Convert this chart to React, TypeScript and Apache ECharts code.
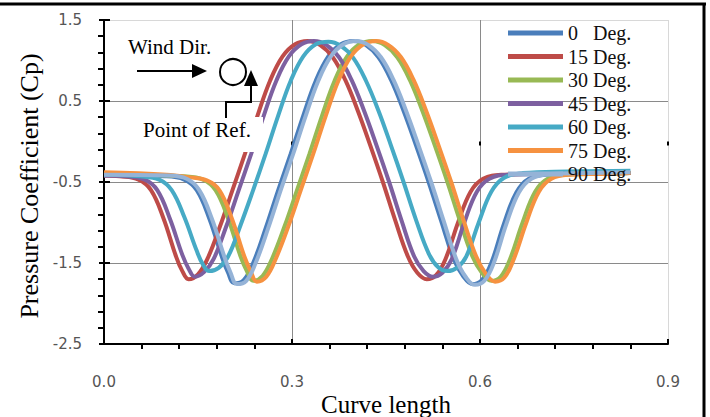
import React, { useEffect, useRef } from "react";
import * as echarts from "echarts";

const seriesNames = ["0   Deg.", "15 Deg.", "30 Deg.", "45 Deg.", "60 Deg.", "75 Deg.", "90 Deg."];
const seriesColors = ["#4A7EBB", "#BE4B48", "#98B954", "#7D60A0", "#46AAC5", "#F69240", "#95B3D7"];

const deg0: number[][] = [
  [0, -0.42], [0.098, -0.43], [0.128, -0.47], [0.148, -0.6], [0.168, -0.95], [0.188, -1.42], [0.198, -1.62],
  [0.208, -1.75], [0.223, -1.71], [0.238, -1.5], [0.258, -1.07], [0.278, -0.6], [0.298, -0.15], [0.318, 0.32],
  [0.338, 0.75], [0.358, 1.05], [0.378, 1.2], [0.398, 1.24], [0.418, 1.19], [0.438, 1.04], [0.458, 0.76],
  [0.478, 0.38], [0.498, -0.05], [0.518, -0.5], [0.538, -0.98], [0.558, -1.45], [0.573, -1.66], [0.588, -1.76],
  [0.603, -1.71], [0.618, -1.5], [0.638, -1.02], [0.658, -0.63], [0.678, -0.46], [0.708, -0.41], [0.77, -0.4], [0.84, -0.39],
];
const deg15: number[][] = [
  [0, -0.42], [0.025, -0.43], [0.055, -0.47], [0.075, -0.6], [0.095, -0.95], [0.115, -1.42], [0.125, -1.6],
  [0.135, -1.7], [0.15, -1.64], [0.165, -1.45], [0.185, -1.05], [0.205, -0.6], [0.225, -0.15], [0.245, 0.32],
  [0.265, 0.75], [0.285, 1.05], [0.305, 1.2], [0.325, 1.24], [0.345, 1.19], [0.365, 1.04], [0.385, 0.76],
  [0.405, 0.38], [0.425, -0.05], [0.445, -0.5], [0.465, -0.98], [0.485, -1.42], [0.5, -1.62], [0.515, -1.7],
  [0.53, -1.65], [0.545, -1.45], [0.565, -1.0], [0.585, -0.62], [0.605, -0.46], [0.635, -0.41], [0.7, -0.4], [0.84, -0.39],
];
const deg30: number[][] = [
  [0, -0.4], [0.128, -0.43], [0.158, -0.47], [0.178, -0.6], [0.198, -0.95], [0.218, -1.42], [0.228, -1.6],
  [0.238, -1.72], [0.253, -1.66], [0.268, -1.45], [0.288, -1.05], [0.308, -0.6], [0.328, -0.15], [0.348, 0.32],
  [0.368, 0.75], [0.388, 1.05], [0.408, 1.2], [0.428, 1.24], [0.448, 1.19], [0.468, 1.04], [0.488, 0.76],
  [0.508, 0.38], [0.528, -0.05], [0.548, -0.5], [0.568, -0.98], [0.588, -1.42], [0.603, -1.62], [0.618, -1.72],
  [0.633, -1.67], [0.648, -1.45], [0.668, -1.0], [0.688, -0.62], [0.708, -0.46], [0.738, -0.41], [0.79, -0.4], [0.84, -0.39],
];
const deg45: number[][] = [
  [0, -0.42], [0.035, -0.43], [0.065, -0.47], [0.085, -0.6], [0.105, -0.95], [0.125, -1.4], [0.135, -1.57],
  [0.145, -1.67], [0.16, -1.61], [0.175, -1.45], [0.195, -1.05], [0.215, -0.6], [0.235, -0.15], [0.255, 0.32],
  [0.275, 0.75], [0.295, 1.05], [0.315, 1.2], [0.335, 1.24], [0.355, 1.19], [0.375, 1.04], [0.395, 0.76],
  [0.415, 0.38], [0.435, -0.05], [0.455, -0.5], [0.475, -0.98], [0.495, -1.42], [0.51, -1.6], [0.525, -1.67],
  [0.54, -1.62], [0.555, -1.45], [0.575, -1.0], [0.595, -0.62], [0.615, -0.46], [0.645, -0.41], [0.72, -0.4], [0.84, -0.39],
];
const deg60: number[][] = [
  [0, -0.41], [0.058, -0.43], [0.088, -0.47], [0.108, -0.6], [0.128, -0.93], [0.148, -1.35], [0.158, -1.52],
  [0.168, -1.6], [0.183, -1.56], [0.198, -1.42], [0.218, -1.03], [0.238, -0.6], [0.258, -0.15], [0.278, 0.32],
  [0.298, 0.75], [0.318, 1.05], [0.338, 1.2], [0.358, 1.23], [0.378, 1.18], [0.398, 1.03], [0.418, 0.75],
  [0.438, 0.38], [0.458, -0.05], [0.478, -0.5], [0.498, -0.97], [0.518, -1.38], [0.533, -1.55], [0.548, -1.6],
  [0.563, -1.56], [0.578, -1.42], [0.598, -1.0], [0.618, -0.62], [0.638, -0.45], [0.668, -0.39], [0.74, -0.37], [0.84, -0.36],
];
const deg75: number[][] = [
  [0, -0.38], [0.1, -0.41], [0.134, -0.44], [0.164, -0.48], [0.184, -0.6], [0.204, -0.95], [0.224, -1.42],
  [0.234, -1.6], [0.244, -1.73], [0.259, -1.67], [0.274, -1.45], [0.294, -1.05], [0.314, -0.6], [0.334, -0.15],
  [0.354, 0.32], [0.374, 0.75], [0.394, 1.05], [0.414, 1.2], [0.434, 1.24], [0.454, 1.19], [0.474, 1.04],
  [0.494, 0.76], [0.514, 0.38], [0.534, -0.05], [0.554, -0.5], [0.574, -0.98], [0.594, -1.42], [0.609, -1.63],
  [0.624, -1.73], [0.639, -1.68], [0.654, -1.45], [0.674, -1.0], [0.694, -0.62], [0.714, -0.46], [0.744, -0.41], [0.79, -0.4], [0.84, -0.39],
];
const deg90: number[][] = [
  [0, -0.41], [0.102, -0.42], [0.132, -0.46], [0.152, -0.6], [0.172, -0.95], [0.192, -1.42], [0.202, -1.62],
  [0.212, -1.76], [0.227, -1.72], [0.242, -1.5], [0.262, -1.07], [0.282, -0.6], [0.302, -0.15], [0.322, 0.32],
  [0.342, 0.75], [0.362, 1.05], [0.382, 1.2], [0.402, 1.24], [0.422, 1.19], [0.442, 1.04], [0.462, 0.76],
  [0.482, 0.38], [0.502, -0.05], [0.522, -0.5], [0.542, -0.98], [0.562, -1.45], [0.577, -1.67], [0.592, -1.77],
  [0.607, -1.72], [0.622, -1.5], [0.642, -1.02], [0.662, -0.63], [0.682, -0.46], [0.712, -0.4], [0.77, -0.39], [0.84, -0.38],
];
const seriesData = [deg0, deg15, deg30, deg45, deg60, deg75, deg90];

const xMin = 0, xMax = 0.9, xStep = 0.3;
const yMin = -2.5, yMax = 1.5, yStep = 1;

const SERIF = "'Liberation Serif', 'Times New Roman', serif";
const SANS = "'DejaVu Sans', sans-serif";

export default function App() {
  const ref = useRef<HTMLDivElement>(null);
  useEffect(() => {
    if (!ref.current) return;
    const chart = echarts.init(ref.current, undefined, { renderer: "svg" });
    const grid = { left: 104, right: 42, top: 20, bottom: 73 };
    const option: any = {
      animation: false,
      backgroundColor: "#ffffff",
      grid,
      legend: {
        orient: "vertical",
        left: 508,
        top: 23,
        padding: 0,
        itemGap: 3.5,
        itemWidth: 55,
        itemHeight: 5,
        icon: "rect",
        data: seriesNames,
        textStyle: { fontFamily: SERIF, fontSize: 20, color: "#111", lineHeight: 20, padding: [0, 0, 0, 0] },
      },
      xAxis: [
        {
          type: "value", min: xMin, max: xMax, interval: xStep,
          axisLine: { show: true, onZero: false, lineStyle: { color: "#000", width: 2 } },
          axisTick: { show: true, inside: true, length: 5, lineStyle: { color: "#000", width: 2 } },
          minorTick: { show: true, splitNumber: 5, length: -5, lineStyle: { color: "#000", width: 2 } },
          axisLabel: { fontFamily: SANS, fontSize: 15, color: "#555", margin: 30, formatter: (v: number) => v.toFixed(1) },
          splitLine: { show: true, lineStyle: { color: ["#8a8a8a", "#8a8a8a", "#8a8a8a", "#d8d8d8"], width: 1 } },
        },
        {
          type: "value", min: xMin, max: xMax, interval: xStep, position: "bottom",
          axisLine: { show: false },
          axisTick: { show: true, inside: false, length: 4, lineStyle: { color: "#000", width: 2 } },
          axisLabel: { show: false },
          splitLine: { show: false },
        },
      ],
      yAxis: [
        {
          type: "value", min: yMin, max: yMax, interval: yStep,
          axisLine: { show: true, onZero: false, lineStyle: { color: "#000", width: 2 } },
          axisTick: { show: true, inside: true, length: 6, lineStyle: { color: "#000", width: 2 } },
          minorTick: { show: true, splitNumber: 5, length: -6, lineStyle: { color: "#000", width: 2 } },
          axisLabel: { fontFamily: SANS, fontSize: 15, color: "#555", margin: 22, formatter: (v: number) => v.toFixed(1) },
          splitLine: { show: true, lineStyle: { color: ["#8a8a8a", "#8a8a8a", "#8a8a8a", "#8a8a8a", "#d8d8d8"], width: 1 } },
        },
        {
          type: "value", min: yMin, max: yMax, interval: yStep, position: "left", offset: 0,
          axisLine: { show: false },
          axisTick: { show: true, inside: false, length: 5, lineStyle: { color: "#000", width: 2 } },
          axisLabel: { show: false },
          splitLine: { show: false },
        },
      ],
      series: seriesData.map((d, i) => ({
        name: seriesNames[i],
        type: "line",
        data: d,
        xAxisIndex: 0,
        yAxisIndex: 0,
        showSymbol: false,
        symbol: "none",
        smooth: 0.4,
        color: seriesColors[i],
        lineStyle: { width: 4, color: seriesColors[i] },
      })),
      graphic: [
        { type: "line", z: 100, shape: { x1: 0, y1: 4, x2: 706, y2: 4 }, style: { stroke: "#000", lineWidth: 3 } },
        { type: "line", z: 100, shape: { x1: 704, y1: 3, x2: 704, y2: 417 }, style: { stroke: "#000", lineWidth: 3 } },
        { type: "rect", z: 100, shape: { x: 136, y: 117, width: 127, height: 35 }, style: { fill: "#fff" } },
        { type: "text", z: 101, x: 143, y: 130, style: { text: "Point of Ref.", font: `21px ${SERIF}`, fill: "#000", textAlign: "left", textVerticalAlign: "middle" } },
        { type: "text", z: 101, x: 128, y: 47, style: { text: "Wind Dir.", font: `21px ${SERIF}`, fill: "#000", textAlign: "left", textVerticalAlign: "middle" } },
        { type: "line", z: 101, shape: { x1: 137, y1: 71, x2: 194, y2: 71 }, style: { stroke: "#000", lineWidth: 2 } },
        { type: "polygon", z: 101, shape: { points: [[192, 64], [207, 71], [192, 78]] }, style: { fill: "#000" } },
        { type: "circle", z: 101, shape: { cx: 233, cy: 72, r: 13 }, style: { fill: "#fff", stroke: "#000", lineWidth: 2 } },
        { type: "polyline", z: 101, shape: { points: [[226, 118], [226, 102], [251, 102], [251, 84]] }, style: { stroke: "#000", lineWidth: 2, fill: null } },
        { type: "polygon", z: 101, shape: { points: [[244, 86], [251, 70], [258, 86]] }, style: { fill: "#000" } },
        { type: "text", z: 101, x: 29, y: 186, rotation: Math.PI / 2, style: { text: "Pressure Coefficient (Cp)", font: `26px ${SERIF}`, fill: "#000", textAlign: "center", textVerticalAlign: "middle" } },
        { type: "text", z: 101, x: 386, y: 404, style: { text: "Curve length", font: `25px ${SERIF}`, fill: "#000", textAlign: "center", textVerticalAlign: "middle" } },
      ],
    };
    chart.setOption(option);
    return () => chart.dispose();
  }, []);
  return <div ref={ref} style={{ position: "absolute", left: 0, top: 0, width: 710, height: 417 }} />;
}
